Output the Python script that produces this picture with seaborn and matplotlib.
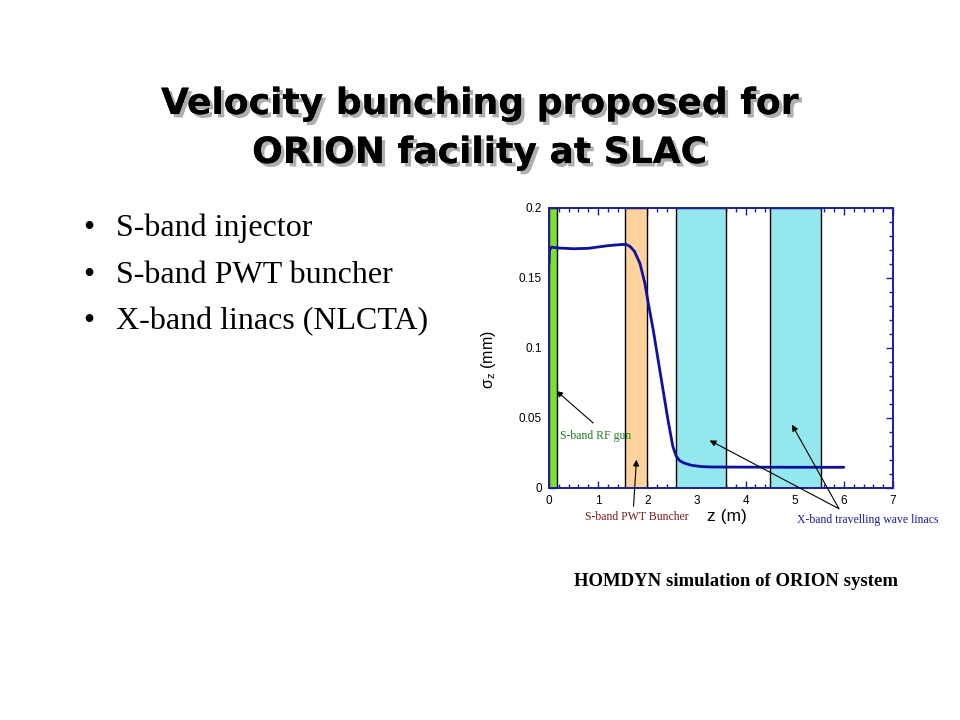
import matplotlib
matplotlib.use("Agg")
import matplotlib.pyplot as plt
import matplotlib.patheffects as pe
from matplotlib.ticker import MultipleLocator
import seaborn as sns
import pandas as pd

# ---- data ----
z_m = [0.0, 0.01, 0.05, 0.2, 0.5, 0.8, 1.2, 1.5, 1.57, 1.65, 1.74, 1.85, 1.95, 2.02, 2.12,
       2.22, 2.32, 2.42, 2.52, 2.59, 2.66, 2.75, 2.9, 3.1, 3.3, 4.0, 5.0, 6.0]
sigma_mm = [0.160, 0.170, 0.1720, 0.1714, 0.1709, 0.1712, 0.1731, 0.1740, 0.1740, 0.1725,
            0.1690, 0.1605, 0.1464, 0.1321, 0.1131, 0.0916, 0.0702, 0.0488, 0.0297, 0.0226,
            0.0195, 0.0178, 0.0162, 0.0153, 0.0150, 0.0149, 0.0148, 0.0148]

band_names = ["S-band RF gun", "S-band PWT Buncher", "X-band linac 1", "X-band linac 2"]
band_start = [0.0, 1.55, 2.59, 4.50]
band_end = [0.16, 2.00, 3.60, 5.53]
band_colors = ["#7ee02a", "#fed39c", "#94e6ef", "#94e6ef"]

x_ticks = [0, 1, 2, 3, 4, 5, 6, 7]
y_ticks = [0, 0.05, 0.1, 0.15, 0.2]
y_tick_labels = ["0", "0.05", "0.1", "0.15", "0.2"]

title_lines = ["Velocity bunching proposed for", "ORION facility at SLAC"]
bullets = ["S-band injector", "S-band PWT buncher", "X-band linacs (NLCTA)"]

df = pd.DataFrame({"z": z_m, "sigma": sigma_mm})

sns.set_theme(style="white")
plt.rcParams["font.family"] = ["Liberation Sans", "DejaVu Sans"]
plt.rcParams["mathtext.default"] = "regular"

navy = "#1c1ca0"
fig = plt.figure(figsize=(9.6, 7.2), dpi=100)
fig.patch.set_facecolor("white")

# ---- title with shadow ----
shadow = [pe.withSimplePatchShadow(offset=(2.5, -2.5), shadow_rgbFace="#9a9a9a", alpha=0.8), pe.Normal()]
for i, line in enumerate(title_lines):
    fig.text(0.5, 1 - (104 + 49 * i) / 720, line, ha="center", va="center",
             fontsize=26, fontweight="bold", family=["DejaVu Sans"], color="black",
             path_effects=shadow)

# ---- bullets ----
for i, b in enumerate(bullets):
    yb = 1 - (236 + 46.7 * i) / 720
    fig.text(83 / 960, yb, "•", ha="left", va="baseline", fontsize=23,
             family=["Liberation Serif"], color="black")
    fig.text(116 / 960, yb, b, ha="left", va="baseline", fontsize=23,
             family=["Liberation Serif"], color="black")

# ---- chart ----
ax = fig.add_axes([549 / 960, 1 - 488 / 720, 344 / 960, 280 / 720])
ax.set_facecolor("white")
for s, e, c in zip(band_start, band_end, band_colors):
    ax.axvspan(s, e, facecolor=c, edgecolor="black", linewidth=1.0, zorder=1)

sns.lineplot(data=df, x="z", y="sigma", ax=ax, color="#1010a0", linewidth=2.0,
             zorder=3, legend=False)

ax.set_xlim(0, 7)
ax.set_ylim(0, 0.2)
ax.set_xticks(x_ticks)
ax.set_xticklabels([str(t) for t in x_ticks])
ax.set_yticks(y_ticks)
ax.set_yticklabels(y_tick_labels)
ax.xaxis.set_minor_locator(MultipleLocator(0.2))
ax.yaxis.set_minor_locator(MultipleLocator(0.01))
ax.tick_params(which="both", direction="in", top=True, right=True, bottom=True, left=True,
               color=navy, labelsize=8.5, labelcolor="black", width=1.0)
ax.tick_params(which="major", length=5, pad=5)
ax.tick_params(which="minor", length=3)
for sp in ax.spines.values():
    sp.set_color(navy)
    sp.set_linewidth(1.4)
    sp.set_zorder(5)
ax.set_xlabel("")
ax.set_ylabel("")

fig.text(727 / 960, 1 - 516 / 720, "z (m)", ha="center", va="center", fontsize=12.5, color="black")
fig.text(488 / 960, 1 - 360 / 720, r"$\sigma_{z}$ (mm)", ha="center", va="center",
         rotation=90, fontsize=11.5, color="black")

# ---- annotations ----
arrow = dict(arrowstyle="-|>", color="black", lw=0.8, mutation_scale=9, shrinkA=0, shrinkB=0)
ax.text(0.22, 0.0374, "S-band RF gun", color="#1e7a1e", fontsize=8.5,
        family=["Liberation Serif"], ha="left", va="center", zorder=6)
ax.annotate("", xy=(0.15, 0.0694), xytext=(0.90, 0.0464), arrowprops=arrow, zorder=6)

ax.text(1.79, -0.0205, "S-band PWT Buncher", color="#7a1a1a", fontsize=8.5,
        family=["Liberation Serif"], ha="center", va="center", clip_on=False)
ax.annotate("", xy=(1.78, 0.0202), xytext=(1.72, -0.013), arrowprops=arrow,
            annotation_clip=False, zorder=6)

ax.text(5.04, -0.0225, "X-band travelling wave linacs", color="#1a1a9a", fontsize=8.5,
        family=["Liberation Serif"], ha="left", va="center", clip_on=False)
ax.annotate("", xy=(3.27, 0.034), xytext=(5.90, -0.0148), arrowprops=arrow,
            annotation_clip=False, zorder=6)
ax.annotate("", xy=(4.945, 0.0452), xytext=(5.90, -0.0148), arrowprops=arrow,
            annotation_clip=False, zorder=6)

fig.text(574 / 960, 1 - 581 / 720, "HOMDYN simulation of ORION system", ha="left", va="center",
         fontsize=13.5, fontweight="bold", family=["Liberation Serif"], color="black")

fig.savefig("out.png", dpi=100, facecolor="white")
